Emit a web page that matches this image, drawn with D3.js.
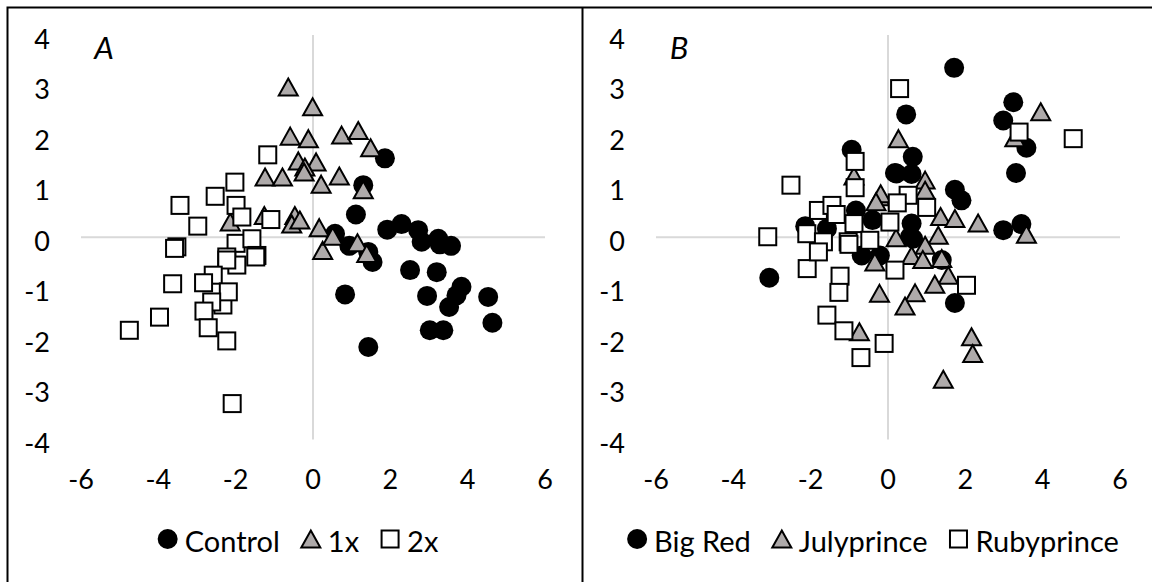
<!DOCTYPE html>
<html>
<head>
<meta charset="utf-8">
<script src="https://cdn.jsdelivr.net/npm/d3@7"></script>
<style>
  body { margin: 0; background: #fff; }
  text { font-family: Lato, "Open Sans", sans-serif; fill: #000; }
</style>
</head>
<body>
<div id="chart"></div>
<script>
// tick values shared by both panels
var xTicks = [-6, -4, -2, 0, 2, 4, 6];
var yTicks = [-4, -3, -2, -1, 0, 1, 2, 3, 4];

// panel A : treatment
var controlPts = [
    [1.86, 1.56], [1.30, 1.03], [1.11, 0.45], [1.92, 0.15], [2.29, 0.26], [2.72, 0.14],
    [2.81, -0.09], [3.24, -0.03], [3.28, -0.14], [3.57, -0.17], [0.57, 0.07], [0.94, -0.17],
    [1.43, -0.29], [1.54, -0.49], [2.51, -0.65], [3.20, -0.69], [0.83, -1.13], [2.95, -1.16],
    [3.84, -0.98], [3.71, -1.15], [3.52, -1.38], [4.53, -1.18], [4.64, -1.69], [3.02, -1.84],
    [3.37, -1.84], [1.43, -2.17]
];
var onexPts = [
    [-0.64, 2.97], [-0.01, 2.58], [-0.59, 2.00], [-0.12, 1.95], [-0.38, 1.51], [0.08, 1.49],
    [-0.21, 1.39], [-0.23, 1.29], [-1.24, 1.19], [-0.79, 1.19], [0.21, 1.05], [-0.47, 0.43],
    [-0.55, 0.26], [-1.26, 0.43], [-2.14, 0.30], [0.16, 0.19], [0.25, -0.26], [0.74, 2.02],
    [1.17, 2.11], [1.49, 1.77], [0.68, 1.21], [1.30, 0.94], [0.51, 0.02], [1.15, -0.11],
    [1.39, -0.32], [-0.34, 0.34]
];
var twoxPts = [
    [-1.17, 1.63], [-2.02, 1.09], [-2.53, 0.81], [-3.44, 0.63], [-1.99, 0.63], [-1.84, 0.40],
    [-1.09, 0.35], [-2.98, 0.22], [-3.52, -0.19], [-3.58, -0.22], [-1.99, -0.12], [-1.58, -0.03],
    [-2.23, -0.39], [-1.45, -0.36], [-1.48, -0.39], [-1.97, -0.55], [-2.23, -0.45], [-2.58, -0.75],
    [-2.83, -0.90], [-2.33, -1.34], [-2.19, -1.08], [-3.63, -0.92], [-2.62, -1.28], [-2.82, -1.46],
    [-3.97, -1.58], [-4.75, -1.84], [-2.71, -1.79], [-2.23, -2.05], [-2.09, -3.29]
];

// panel B : cultivar
var bigRedPts = [
    [-0.94, 1.73], [0.22, 1.26], [-0.83, 0.53], [-2.14, 0.22], [-1.58, 0.17], [-0.40, 0.34],
    [1.71, 3.35], [3.24, 2.67], [2.98, 2.31], [3.58, 1.77], [0.47, 2.43], [3.31, 1.27],
    [0.64, 1.59], [0.18, 1.27], [0.61, 1.25], [1.73, 0.94], [1.90, 0.73], [2.98, 0.14],
    [3.45, 0.26], [0.61, 0.27], [0.57, 0.01], [1.73, -1.30], [0.65, -0.03], [1.39, -0.45],
    [-0.21, -0.36], [-3.07, -0.80], [-0.68, -0.36]
];
var julyPts = [
    [-0.21, 0.80], [-0.88, 1.21], [0.27, 1.95], [3.95, 2.48], [3.28, 1.97], [0.96, 1.13],
    [-0.19, 0.86], [0.96, 0.93], [1.36, 0.41], [1.73, 0.37], [2.33, 0.28], [3.58, 0.06],
    [1.30, 0.04], [0.21, -0.01], [-0.31, 0.70], [0.96, -0.16], [0.61, -0.36], [0.90, -0.44],
    [1.39, -0.42], [-0.34, -0.49], [1.56, -0.75], [1.21, -0.93], [-0.22, -1.11], [0.70, -1.10],
    [0.44, -1.36], [2.16, -1.97], [2.19, -2.30], [1.43, -2.81], [-0.74, -1.87]
];
var rubyPts = [
    [0.30, 2.94], [-0.85, 1.50], [-0.85, 0.98], [-2.51, 1.03], [-1.80, 0.53], [-1.45, 0.63],
    [-1.34, 0.45], [-0.88, 0.27], [-2.10, 0.07], [-3.11, 0.01], [-1.67, -0.09], [-1.03, -0.09],
    [-0.47, -0.06], [0.05, 0.30], [3.39, 2.08], [4.79, 1.95], [0.52, 0.83], [0.24, 0.68],
    [1.00, 0.59], [0.18, -0.65], [2.03, -0.95], [-0.10, -2.10], [-2.09, -0.62], [-1.24, -0.77],
    [-1.27, -1.09], [-1.58, -1.54], [-1.14, -1.85], [-0.70, -2.38], [-1.01, -0.14], [-1.80, -0.29]
];

var panels = [
    { letter: "A", offset: 0,
      series: [
        { name: "Control", shape: "circle", pts: controlPts },
        { name: "1x", shape: "triangle", pts: onexPts },
        { name: "2x", shape: "square", pts: twoxPts }
      ] },
    { letter: "B", offset: 575,
      series: [
        { name: "Big Red", shape: "circle", pts: bigRedPts },
        { name: "Julyprince", shape: "triangle", pts: julyPts },
        { name: "Rubyprince", shape: "square", pts: rubyPts }
      ] }
];

var width = 1152, height = 582;
var fontSize = 27;
var legendSize = 29;
var legendGap = 21;

var svg = d3.select("#chart").append("svg")
    .attr("width", width)
    .attr("height", height);

// frame lines
svg.append("path")
    .attr("d", "M7.5,582V7.5H1152M582.5,7.5V582")
    .attr("fill", "none")
    .attr("stroke", "#000")
    .attr("stroke-width", 2);

//draws a marker of the given shape into a selection
function drawMarker(sel, shape) {
    if (shape == "circle") {
        sel.append("circle").attr("r", 10).attr("fill", "#000");
    } else if (shape == "triangle") {
        sel.append("path")
            .attr("d", "M0,-8.5L9.5,8.5L-9.5,8.5Z")
            .attr("fill", "#aeaaaa")
            .attr("stroke", "#000")
            .attr("stroke-width", 2)
            .attr("stroke-linejoin", "miter");
    } else {
        sel.append("rect")
            .attr("x", -8.5).attr("y", -8.5)
            .attr("width", 17).attr("height", 17)
            .attr("fill", "#fff")
            .attr("stroke", "#000")
            .attr("stroke-width", 2);
    }
}

panels.forEach(function (p) {
    var g = svg.append("g").attr("transform", "translate(" + p.offset + ",0)");

    var x = d3.scaleLinear().domain([-6, 6]).range([81, 545]);
    var y = d3.scaleLinear().domain([-4, 4]).range([439.5, 35]);

    // zero axes
    g.append("line")
        .attr("x1", x(-6)).attr("x2", x(6))
        .attr("y1", y(0)).attr("y2", y(0))
        .attr("stroke", "#d9d9d9").attr("stroke-width", 2);
    g.append("line")
        .attr("x1", x(0)).attr("x2", x(0))
        .attr("y1", y(-4)).attr("y2", y(4))
        .attr("stroke", "#d9d9d9").attr("stroke-width", 2);

    // tick labels
    g.selectAll(".ylab").data(yTicks).enter().append("text")
        .attr("class", "ylab")
        .attr("x", 50)
        .attr("y", function (d) { return y(d) + 3; })
        .attr("text-anchor", "end")
        .attr("dominant-baseline", "central")
        .style("font-size", fontSize + "px")
        .text(function (d) { return d; });

    g.selectAll(".xlab").data(xTicks).enter().append("text")
        .attr("class", "xlab")
        .attr("x", function (d) { return x(d); })
        .attr("y", 478)
        .attr("text-anchor", "middle")
        .attr("dominant-baseline", "central")
        .style("font-size", fontSize + "px")
        .text(function (d) { return d; });

    // panel letter
    g.append("text")
        .attr("x", 104).attr("y", 47)
        .attr("text-anchor", "middle")
        .attr("dominant-baseline", "central")
        .style("font-size", "31px")
        .style("font-style", "italic")
        .text(p.letter);

    // points, series order so later ones sit on top
    p.series.forEach(function (s) {
        g.append("g").selectAll("g").data(s.pts).enter().append("g")
            .attr("transform", function (d) { return "translate(" + x(d[0]) + "," + y(d[1]) + ")"; })
            .each(function () { drawMarker(d3.select(this), s.shape); });
    });

    // legend, laid out from measured text widths
    var leg = g.append("g");
    var cx = 0;
    p.series.forEach(function (s, i) {
        var item = leg.append("g").attr("transform", "translate(" + (cx + 10) + ",0)");
        drawMarker(item, s.shape);
        var t = item.append("text")
            .attr("x", 17).attr("y", 1)
            .attr("dominant-baseline", "central")
            .style("font-size", legendSize + "px")
            .text(s.name);
        cx += 10 + 17 + t.node().getComputedTextLength() + legendGap;
    });
    var legW = cx - legendGap;
    leg.attr("transform", "translate(" + (298 - legW / 2) + ",539)");
});
</script>
</body>
</html>
